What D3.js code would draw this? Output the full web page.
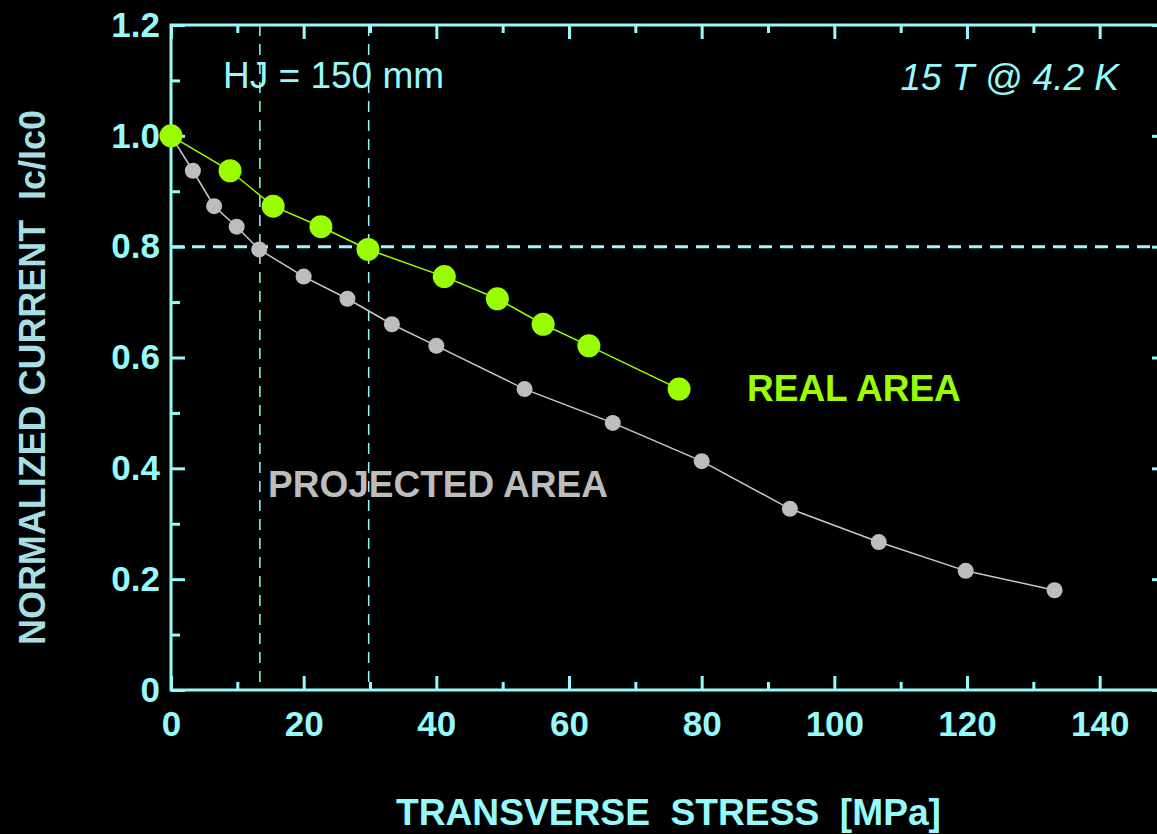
<!DOCTYPE html>
<html>
<head>
<meta charset="utf-8">
<script src="https://cdn.jsdelivr.net/npm/d3@7"></script>
<style>
  html, body { margin: 0; padding: 0; background: #000; }
  svg { display: block; }
  text { font-family: "Liberation Sans", Arial, sans-serif; white-space: pre; }
</style>
</head>
<body>
<div id="chart"></div>
<script>
// transverse stress [MPa] and normalized current
var stressProjected = [0, 3.3, 6.5, 9.9, 13.3, 20, 26.6, 33.3, 40, 53.3, 66.6, 80, 93.3, 106.7, 119.8, 133.2];
var currentProjected = [1.0, 0.937, 0.873, 0.836, 0.795, 0.746, 0.706, 0.66, 0.621, 0.543, 0.482, 0.413, 0.327, 0.267, 0.215, 0.18];
var stressReal = [0, 8.9, 15.4, 22.6, 29.7, 41.2, 49.2, 56.1, 63, 76.6];
var currentReal = [1.0, 0.937, 0.873, 0.836, 0.795, 0.746, 0.706, 0.66, 0.621, 0.543];

var xMajorTicks = [0, 20, 40, 60, 80, 100, 120, 140];
var xMinorTicks = [10, 30, 50, 70, 90, 110, 130, 150];
var yMajorTicks = [0, 0.2, 0.4, 0.6, 0.8, 1.0, 1.2];
var yMinorTicks = [0.1, 0.3, 0.5, 0.7, 0.9, 1.1];
var markerLinesX = [13.4, 29.8];
var markerLineY = 0.8;

var W = 1157, H = 834;
var CYAN = '#96fafa', GREEN = '#99ff00', GREY = '#bdbdbd';

var svg = d3.select('#chart').append('svg')
    .attr('width', W)
    .attr('height', H)
    .style('background', '#000');

var x = d3.scaleLinear().domain([0, 150]).range([171, 1166]);
var y = d3.scaleLinear().domain([0, 1.2]).range([690, 25]);

function styleAxis(g) {
  g.select('.domain').remove();
  g.selectAll('line').attr('stroke', CYAN).attr('stroke-width', 3);
  g.selectAll('text')
      .attr('fill', CYAN)
      .style('font-size', '35px')
      .style('font-weight', 'bold');
}

// bottom axis
svg.append('g').attr('transform', 'translate(0,' + y(0) + ')')
    .call(d3.axisBottom(x).tickValues(xMajorTicks).tickSize(-14).tickPadding(21)
      .tickFormat(d3.format('d')))
    .call(styleAxis);
svg.append('g').attr('transform', 'translate(0,' + y(0) + ')')
    .call(d3.axisBottom(x).tickValues(xMinorTicks).tickSize(-8).tickFormat(''))
    .call(styleAxis);

// top axis
svg.append('g').attr('transform', 'translate(0,' + y(1.2) + ')')
    .call(d3.axisTop(x).tickValues(xMajorTicks).tickSize(-14).tickFormat(''))
    .call(styleAxis);
svg.append('g').attr('transform', 'translate(0,' + y(1.2) + ')')
    .call(d3.axisTop(x).tickValues(xMinorTicks).tickSize(-8).tickFormat(''))
    .call(styleAxis);

// left axis
svg.append('g').attr('transform', 'translate(' + x(0) + ',0)')
    .call(d3.axisLeft(y).tickValues(yMajorTicks).tickSize(-14).tickPadding(11)
      .tickFormat(function(d) { return d === 0 ? '0' : d3.format('.1f')(d); }))
    .call(styleAxis);
svg.append('g').attr('transform', 'translate(' + x(0) + ',0)')
    .call(d3.axisLeft(y).tickValues(yMinorTicks).tickSize(-9).tickFormat(''))
    .call(styleAxis);

// right axis
svg.append('g').attr('transform', 'translate(' + x(150) + ',0)')
    .call(d3.axisRight(y).tickValues(yMajorTicks).tickSize(-14).tickFormat(''))
    .call(styleAxis);
svg.append('g').attr('transform', 'translate(' + x(150) + ',0)')
    .call(d3.axisRight(y).tickValues(yMinorTicks).tickSize(-9).tickFormat(''))
    .call(styleAxis);

// frame
svg.append('rect')
    .attr('x', x(0))
    .attr('y', y(1.2))
    .attr('width', x(150) - x(0))
    .attr('height', y(0) - y(1.2))
    .attr('fill', 'none')
    .attr('stroke', CYAN)
    .attr('stroke-width', 3);

// reference dashed lines
svg.selectAll('line.vref')
    .data(markerLinesX)
  .enter().append('line')
    .attr('class', 'vref')
    .attr('x1', function(d) { return x(d); })
    .attr('x2', function(d) { return x(d); })
    .attr('y1', y(1.2))
    .attr('y2', y(0))
    .attr('stroke', CYAN)
    .attr('stroke-width', 1.5)
    .attr('stroke-dasharray', '11,8');

svg.append('line')
    .attr('x1', x(0))
    .attr('x2', x(150))
    .attr('y1', y(markerLineY))
    .attr('y2', y(markerLineY))
    .attr('stroke', CYAN)
    .attr('stroke-width', 3)
    .attr('stroke-dasharray', '13,8');

// series
var projected = stressProjected.map(function(s, i) { return [s, currentProjected[i]]; });
var real = stressReal.map(function(s, i) { return [s, currentReal[i]]; });

var line = d3.line()
    .x(function(d) { return x(d[0]); })
    .y(function(d) { return y(d[1]); });

svg.append('path')
    .datum(projected)
    .attr('d', line)
    .attr('fill', 'none')
    .attr('stroke', '#c8c8c8')
    .attr('stroke-width', 1.5);

svg.selectAll('circle.proj')
    .data(projected)
  .enter().append('circle')
    .attr('class', 'proj')
    .attr('cx', function(d) { return x(d[0]); })
    .attr('cy', function(d) { return y(d[1]); })
    .attr('r', 8)
    .attr('fill', GREY);

svg.append('path')
    .datum(real)
    .attr('d', line)
    .attr('fill', 'none')
    .attr('stroke', GREEN)
    .attr('stroke-width', 1.5);

svg.selectAll('circle.real')
    .data(real)
  .enter().append('circle')
    .attr('class', 'real')
    .attr('cx', function(d) { return x(d[0]); })
    .attr('cy', function(d) { return y(d[1]); })
    .attr('r', 11.5)
    .attr('fill', GREEN);

// annotations
svg.append('text')
    .attr('x', 223).attr('y', 88)
    .attr('fill', CYAN)
    .style('font-size', '37px')
    .text('HJ = 150 mm');

svg.append('text')
    .attr('x', 1119).attr('y', 90)
    .attr('text-anchor', 'end')
    .attr('fill', CYAN)
    .style('font-size', '37px')
    .style('font-style', 'italic')
    .text('15 T @ 4.2 K');

svg.append('text')
    .attr('x', 747).attr('y', 401)
    .attr('fill', GREEN)
    .style('font-size', '37px')
    .style('font-weight', 'bold')
    .text('REAL AREA');

svg.append('text')
    .attr('x', 268).attr('y', 497)
    .attr('fill', GREY)
    .style('font-size', '37px')
    .style('font-weight', 'bold')
    .text('PROJECTED AREA');

// axis titles
svg.append('text')
    .attr('x', 396).attr('y', 825)
    .attr('fill', CYAN)
    .attr('textLength', 545)
    .attr('lengthAdjust', 'spacingAndGlyphs')
    .style('font-size', '37px')
    .style('font-weight', 'bold')
    .text('TRANSVERSE  STRESS  [MPa]');

svg.append('text')
    .attr('transform', 'translate(45,645) rotate(-90)')
    .attr('fill', '#a6dfe3')
    .attr('textLength', 535)
    .attr('lengthAdjust', 'spacingAndGlyphs')
    .style('font-size', '37px')
    .style('font-weight', 'bold')
    .text('NORMALIZED CURRENT  Ic/Ic0');
</script>
</body>
</html>
